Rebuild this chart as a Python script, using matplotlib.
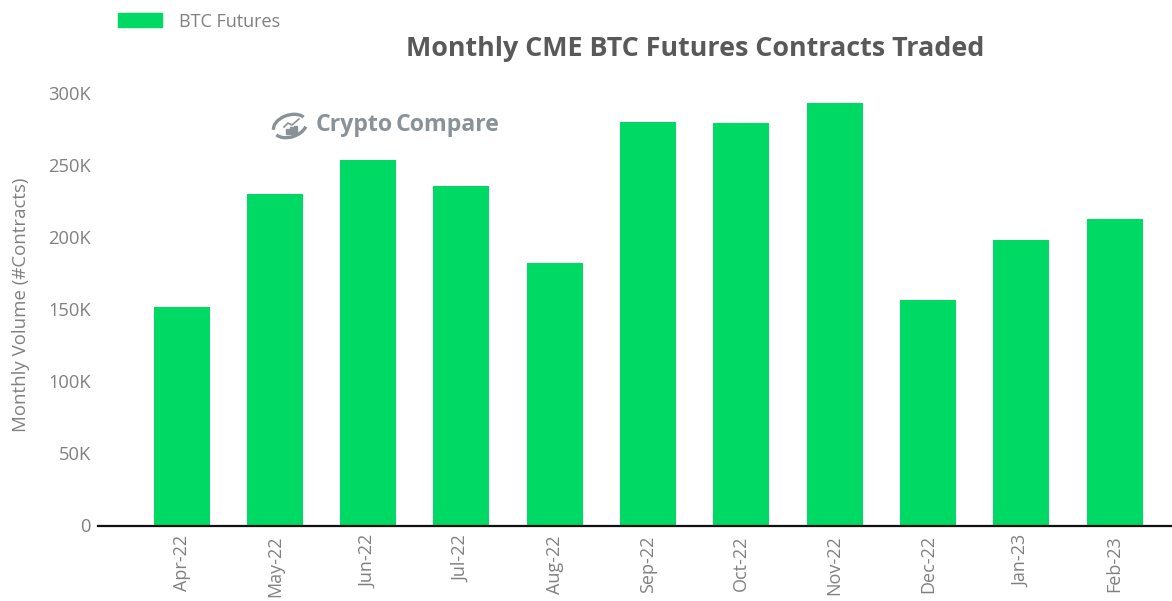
import matplotlib
matplotlib.use("Agg")
import matplotlib.pyplot as plt
from matplotlib.patches import Rectangle, Arc
from matplotlib.lines import Line2D
from matplotlib.transforms import Affine2D

months = ["Apr-22","May-22","Jun-22","Jul-22","Aug-22","Sep-22","Oct-22","Nov-22","Dec-22","Jan-23","Feb-23"]
btc_futures = [152000,230300,253800,235800,182300,280300,279300,293300,156300,198300,212800]
y_ticks = [0,50000,100000,150000,200000,250000,300000]
y_labels = ["0","50K","100K","150K","200K","250K","300K"]

plt.rcParams['font.family'] = ['Open Sans','DejaVu Sans']
W,H = 1172,601
fig = plt.figure(figsize=(W/100,H/100),dpi=100)
ax = fig.add_axes([98/W,1-525.5/H,(W-98)/W,(525.5-93.5)/H])
ax.bar(range(len(months)),btc_futures,width=0.6,color="#00D964")
ax.set_xlim(-0.895,10.615)
ax.set_ylim(0,300000)
ax.set_yticks(y_ticks,y_labels,fontsize=13.2,color="#808080")
ax.set_xticks(range(len(months)),months,rotation=90,fontsize=13,color="#808080")
ax.tick_params(axis='y',length=0,pad=5)
ax.tick_params(axis='x',length=0,pad=7)
for s in ['top','right','left']:
    ax.spines[s].set_visible(False)
ax.spines['bottom'].set_linewidth(1.6)
ax.spines['bottom'].set_color("#111111")
ax.set_ylabel("Monthly Volume (#Contracts)",fontsize=13.4,color="#808080")
ax.yaxis.set_label_coords((30-98)/(W-98),0.51)
fig.text(695/W,1-48.5/H,"Monthly CME BTC Futures Contracts Traded",fontsize=19.4,fontweight='bold',color="#595959",ha='center',va='center')
fig.patches.append(Rectangle((118/W,1-27/H),44/W,14/H,transform=fig.transFigure,color="#00D964"))
fig.text(179/W,1-22/H,"BTC Futures",fontsize=13,color="#808080",va='center')

# CryptoCompare watermark, drawn in pixel coordinates
logo = "#8a9299"
px = Affine2D().scale(1/W,-1/H).translate(0,1) + fig.transFigure
fig.patches.append(Arc((290,126),34,22,angle=-18,theta1=20,theta2=165,transform=px,ec=logo,lw=2.4))
fig.patches.append(Arc((290,126),34,22,angle=-18,theta1=185,theta2=345,transform=px,ec=logo,lw=2.4))
for x,top in [(286,129),(290,127),(294,126)]:
    fig.patches.append(Rectangle((x,top),2.5,134-top,transform=px,color=logo))
fig.add_artist(Line2D([284,288,292,299],[127,123,125,119],transform=px,color=logo,lw=1.2))
fig.text(316/W,1-125/H,"Crypto",fontsize=16.7,fontweight='bold',color=logo,va='center')
fig.text(396/W,1-125/H,"Compare",fontsize=16.7,fontweight='bold',color=logo,va='center')
fig.savefig("out.png",dpi=100)
